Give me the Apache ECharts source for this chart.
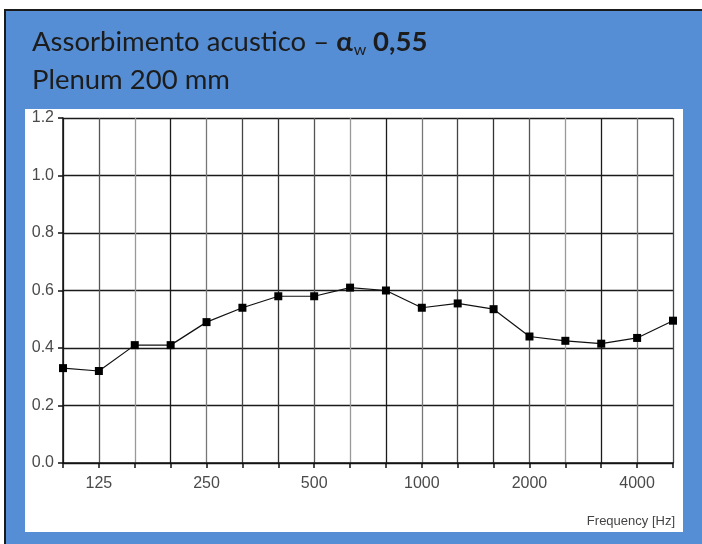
<!DOCTYPE html>
<html>
<head>
<meta charset="utf-8">
<script src="https://cdn.jsdelivr.net/npm/echarts@6/dist/echarts.min.js"></script>
<style>html,body{margin:0;padding:0;background:#fff}#c{width:702px;height:544px}</style>
</head>
<body>
<div id="c"></div>
<script>
const frequencies = ['100','125','160','200','250','315','400','500','630','800','1000','1250','1600','2000','2500','3150','4000','5000'];
const absorption = [0.33,0.32,0.41,0.41,0.49,0.54,0.58,0.58,0.61,0.60,0.54,0.555,0.535,0.44,0.425,0.415,0.435,0.495];
const shownLabels = ['125','250','500','1000','2000','4000'];
const yTicks = [0,0.2,0.4,0.6,0.8,1.0,1.2];

const chart = echarts.init(document.getElementById('c'), null, {renderer:'canvas'});
chart.setOption({
  animation:false,
  backgroundColor:'#fff',
  graphic:[
    {type:'rect', z:-10, shape:{x:5,y:10,width:700,height:540}, style:{fill:'#558ed5', stroke:'#1a1a1a', lineWidth:2}},
    {type:'rect', z:-9, shape:{x:25,y:109,width:658,height:423}, style:{fill:'#ffffff'}},
    {type:'text', right:27, top:515, style:{text:'Frequency [Hz]', font:'13px "Liberation Sans", Arial, sans-serif', fill:'#444'}}
  ],
  title:{
    left:27, top:18,
    text:'{n|Assorbimento acustico – }{a|α}{s|w}{b| 0,55}\n{n|Plenum 200 mm}',
    textStyle:{
      fontWeight:'normal',
      rich:{
        n:{fontFamily:'Lato, sans-serif', fontSize:27.5, fontWeight:'normal', color:'#1c1c1c', lineHeight:38, verticalAlign:'middle'},
        a:{fontFamily:'Lato, sans-serif', fontSize:27.5, fontWeight:'bold', color:'#1c1c1c', lineHeight:38, verticalAlign:'middle'},
        s:{fontFamily:'Lato, sans-serif', fontSize:16, fontWeight:'normal', color:'#1c1c1c', lineHeight:16, verticalAlign:'bottom', padding:[0,0,3,1]},
        b:{fontFamily:'Lato, sans-serif', fontSize:27.5, fontWeight:'bold', color:'#1c1c1c', lineHeight:38, verticalAlign:'middle'}
      }
    }
  },
  grid:{left:63, top:118, right:29, bottom:81, containLabel:false, show:false},
  xAxis:{
    type:'category', data:frequencies, boundaryGap:false,
    axisLine:{show:true, lineStyle:{color:'#111', width:1.5}},
    axisTick:{show:true, interval:0, length:5, lineStyle:{color:'#111', width:1.5}},
    axisLabel:{interval:0, margin:13, color:'#4a4a4a', fontSize:16, fontFamily:'"Liberation Sans", Arial, sans-serif',
      formatter:v => shownLabels.includes(v) ? v : ''},
    splitLine:{show:true, interval:0, lineStyle:{color:['#333','#555','#999','#1a1a1a','#777','#444'], width:1.3}}
  },
  yAxis:{
    type:'value', min:yTicks[0], max:yTicks[yTicks.length-1], interval:0.2,
    axisLine:{show:true, lineStyle:{color:'#111', width:1.5}},
    axisTick:{show:true, length:5, lineStyle:{color:'#111', width:1.5}},
    axisLabel:{margin:9, color:'#4a4a4a', fontSize:16, fontFamily:'"Liberation Sans", Arial, sans-serif',
      formatter:v => v.toFixed(1)},
    splitLine:{show:true, lineStyle:{color:'#1a1a1a', width:1.3}}
  },
  series:[{
    type:'line', data:absorption, symbol:'rect', symbolSize:8,
    itemStyle:{color:'#000'}, lineStyle:{color:'#111', width:1.2}, z:5
  }]
});
</script>
</body>
</html>
